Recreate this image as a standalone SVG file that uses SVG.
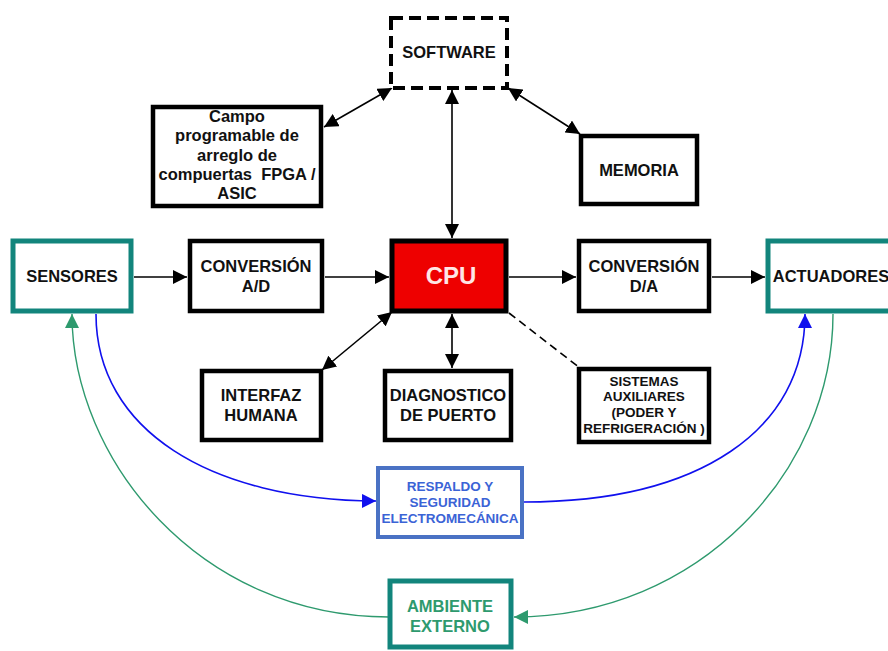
<svg xmlns="http://www.w3.org/2000/svg" width="888" height="651" viewBox="0 0 888 651">
<defs>
<style>
text{font-family:"Liberation Sans",Arial,sans-serif;font-weight:bold;text-anchor:middle;}
.box{fill:#fff;stroke:#000;stroke-width:4.5;}
.teal{fill:#fff;stroke:#12857c;stroke-width:5;}
.t{font-size:16.5px;fill:#111;}
.s{font-size:13.5px;fill:#111;}
.c{stroke:#000;stroke-width:1.6;fill:none;}
</style>
<marker id="ab" viewBox="0 0 10 10" refX="10" refY="5" markerWidth="14" markerHeight="14" markerUnits="userSpaceOnUse" orient="auto"><path d="M0,0L10,5L0,10z" fill="#1010ee"/></marker>
<marker id="ag" viewBox="0 0 10 10" refX="10" refY="5" markerWidth="14" markerHeight="14" markerUnits="userSpaceOnUse" orient="auto"><path d="M0,0L10,5L0,10z" fill="#2e9a6e"/></marker>
<marker id="ak" viewBox="0 0 10 10" refX="10" refY="5" markerWidth="14" markerHeight="14" markerUnits="userSpaceOnUse" orient="auto-start-reverse"><path d="M0,0L10,5L0,10z" fill="#000"/></marker>
</defs>
<g id="connectors">
<line class="c" x1="134" y1="277" x2="187" y2="277" marker-end="url(#ak)"/>
<line class="c" x1="325" y1="277" x2="389" y2="277" marker-end="url(#ak)"/>
<line class="c" x1="509" y1="277" x2="576" y2="277" marker-end="url(#ak)"/>
<line class="c" x1="712" y1="277" x2="765" y2="277" marker-end="url(#ak)"/>
<line class="c" x1="452" y1="90" x2="452" y2="238" marker-start="url(#ak)" marker-end="url(#ak)"/>
<line class="c" x1="324" y1="127" x2="392" y2="88" marker-start="url(#ak)" marker-end="url(#ak)"/>
<line class="c" x1="508" y1="88" x2="580" y2="134" marker-start="url(#ak)" marker-end="url(#ak)"/>
<line class="c" x1="392" y1="312" x2="322" y2="370" marker-start="url(#ak)" marker-end="url(#ak)"/>
<line class="c" x1="452" y1="314" x2="452" y2="368" marker-start="url(#ak)" marker-end="url(#ak)"/>
<line class="c" x1="509" y1="313" x2="580" y2="368" stroke-dasharray="8,5"/>
<path d="M96,314 C96,430 210,500 376,501" fill="none" stroke="#1010ee" stroke-width="1.6" marker-end="url(#ab)"/>
<path d="M524,502 C700,502 805,430 805,314" fill="none" stroke="#1010ee" stroke-width="1.6" marker-end="url(#ab)"/>
<path d="M389,617 C200,617 72,460 72,314" fill="none" stroke="#2e9a6e" stroke-width="1.4" marker-end="url(#ag)"/>
<path d="M833,314 C833,470 700,617 514,617" fill="none" stroke="#2e9a6e" stroke-width="1.4" marker-end="url(#ag)"/>
</g>
<g id="software">
<rect x="391" y="18" width="116" height="70" fill="#fff" stroke="#000" stroke-width="4" stroke-dasharray="12,6"/>
<text class="t" x="449" y="58">SOFTWARE</text>
</g>
<g id="fpga">
<rect class="box" x="153" y="107" width="168" height="99"/>
<text class="t" x="237" y="122">Campo</text>
<text class="t" x="237" y="141">programable de</text>
<text class="t" x="237" y="161">arreglo de</text>
<text class="t" x="237" y="180" xml:space="preserve">compuertas  FPGA /</text>
<text class="t" x="237" y="199">ASIC</text>
</g>
<g id="memoria">
<rect class="box" x="581" y="136" width="116" height="68"/>
<text class="t" x="639" y="176">MEMORIA</text>
</g>
<g id="sensores">
<rect class="teal" x="13" y="241" width="118" height="70"/>
<text class="t" x="72" y="282">SENSORES</text>
</g>
<g id="conv-ad">
<rect class="box" x="190" y="241" width="132" height="70"/>
<text class="t" x="256" y="272">CONVERSIÓN</text>
<text class="t" x="256" y="292">A/D</text>
</g>
<g id="cpu">
<rect x="392" y="241" width="114" height="70" fill="#ee0000" stroke="#000" stroke-width="5"/>
<text x="451" y="284" font-size="24" fill="#ffe6e6">CPU</text>
</g>
<g id="conv-da">
<rect class="box" x="579" y="241" width="130" height="70"/>
<text class="t" x="644" y="272">CONVERSIÓN</text>
<text class="t" x="644" y="292">D/A</text>
</g>
<g id="actuadores">
<rect class="teal" x="768" y="241" width="126" height="70"/>
<text class="t" x="831" y="282">ACTUADORES</text>
</g>
<g id="interfaz">
<rect class="box" x="202" y="371" width="119" height="69"/>
<text class="t" x="261" y="401">INTERFAZ</text>
<text class="t" x="261" y="421">HUMANA</text>
</g>
<g id="diagnostico">
<rect class="box" x="385" y="371" width="126" height="69"/>
<text class="t" x="448" y="401">DIAGNOSTICO</text>
<text class="t" x="448" y="421">DE PUERTO</text>
</g>
<g id="sistemas">
<rect class="box" x="579" y="369" width="130" height="73"/>
<text class="s" x="644" y="386">SISTEMAS</text>
<text class="s" x="644" y="401">AUXILIARES</text>
<text class="s" x="644" y="417">(PODER Y</text>
<text class="s" x="644" y="433">REFRIGERACIÓN )</text>
</g>
<g id="respaldo">
<rect x="378" y="468" width="144" height="69" fill="#fff" stroke="#4a72c4" stroke-width="4"/>
<text class="s" x="450" y="491" style="fill:#3b63d6">RESPALDO Y</text>
<text class="s" x="450" y="507" style="fill:#3b63d6">SEGURIDAD</text>
<text class="s" x="450" y="523" style="fill:#3b63d6">ELECTROMECÁNICA</text>
</g>
<g id="ambiente">
<rect class="teal" x="390" y="581" width="121" height="66"/>
<text class="t" x="450" y="612" style="fill:#2e9a6e">AMBIENTE</text>
<text class="t" x="450" y="632" style="fill:#2e9a6e">EXTERNO</text>
</g>
</svg>
